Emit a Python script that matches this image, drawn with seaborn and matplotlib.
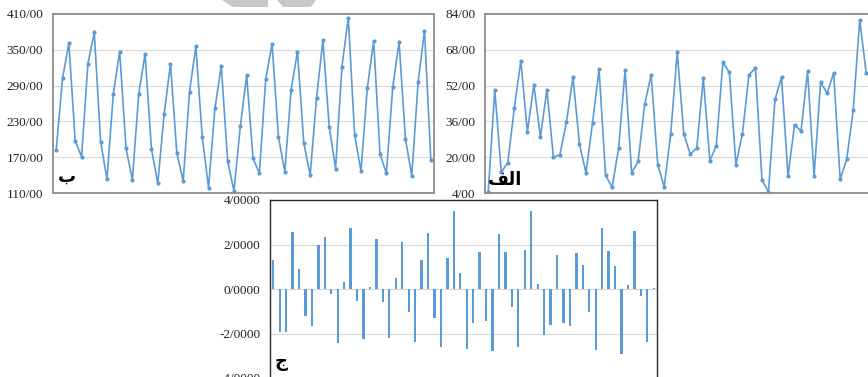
import numpy as np
import pandas as pd
import seaborn as sns
import matplotlib.pyplot as plt
from matplotlib.patches import Polygon

# panel ب (top left)
VALUES_B = [182, 302, 361, 197, 171, 327, 379, 196, 133, 276,
            347, 185, 132, 276, 343, 184, 126, 242, 326, 177,
            130, 280, 356, 204, 119, 252, 323, 164, 113, 222,
            307, 168, 143, 301, 360, 204, 146, 283, 347, 193,
            140, 269, 366, 221, 151, 321, 404, 207, 147, 286,
            365, 175, 143, 287, 363, 201, 139, 296, 382, 166]
TICKS_B = [110, 170, 230, 290, 350, 410]
TICK_LABELS_B = ['110/00', '170/00', '230/00', '290/00', '350/00', '410/00']

# panel الف (top right, cut off at the right edge of the picture)
VALUES_ALEF = [4.6, 50.1, 13.2, 17.6, 42.1, 63.1, 31.3, 52.3, 29.0, 50.1,
               19.9, 21.2, 35.7, 55.7, 25.8, 13.0, 35.4, 59.4, 12.0, 6.5,
               23.9, 59.0, 13.0, 18.1, 43.6, 56.9, 16.7, 6.8, 30.5, 67.1,
               30.5, 21.3, 24.2, 55.4, 18.4, 25.2, 62.4, 57.9, 16.7, 30.5,
               56.9, 59.7, 9.8, 4.6, 45.8, 55.7, 11.6, 34.5, 31.7, 58.4,
               11.7, 53.5, 48.6, 57.6, 10.2, 19.0, 40.9, 81.3, 57.5]
TICKS_ALEF = [4, 20, 36, 52, 68, 84]
TICK_LABELS_ALEF = ['4/00', '20/00', '36/00', '52/00', '68/00', '84/00']

# panel ج (bottom)
VALUES_J = [1.30, -1.92, -1.92, 2.56, 0.91, -1.21, -1.66, 1.98, 2.32, -0.21,
            -2.44, 0.33, 2.74, -0.54, -2.26, 0.07, 2.23, -0.58, -2.19, 0.51,
            2.10, -1.05, -2.38, 1.30, 2.52, -1.30, -2.59, 1.38, 3.51, 0.70,
            -2.70, -1.51, 1.68, -1.42, -2.77, 2.47, 1.65, -0.82, -2.59, 1.75,
            3.51, 0.21, -2.07, -1.62, 1.51, -1.51, -1.65, 1.60, 1.06, -1.05,
            -2.74, 2.73, 1.72, 1.05, -2.94, 0.16, 2.61, -0.30, -2.38, 0.06]
TICKS_J = [-4, -2, 0, 2, 4]
TICK_LABELS_J = ['-4/0000', '-2/0000', '0/0000', '2/0000', '4/0000']

# panel letters; الف given in presentation forms, visual order, so it joins
LABEL_B = 'ب'
LABEL_ALEF = '\ufed2\ufedf\ufe8d'
LABEL_J = 'ج'

BLUE = '#5b9bd5'
W, H = 868, 377

sns.set_style('white')
plt.rcParams['font.family'] = ['Liberation Serif', 'DejaVu Serif']

fig = plt.figure(figsize=(W / 100, H / 100), dpi=100)


def px_axes(left, top, right, bottom):
    return fig.add_axes([left / W, (H - bottom) / H, (right - left) / W, (bottom - top) / H])


def style_axes(ax, ticks, labels, edge, lw):
    ax.set_yticks(ticks)
    ax.set_yticklabels(labels)
    ax.set_ylim(ticks[0], ticks[-1])
    ax.set_xticks([])
    ax.set_xlabel('')
    ax.set_ylabel('')
    ax.tick_params(axis='y', length=0, pad=7, labelsize=9.5, labelcolor='#222222')
    ax.grid(axis='y', color='#d9d9d9', linewidth=0.8)
    ax.set_axisbelow(True)
    for s in ax.spines.values():
        s.set_color(edge)
        s.set_linewidth(lw)


def line_panel(ax, values, ticks, labels, n_slots):
    df = pd.DataFrame({'i': np.arange(len(values)), 'v': values})
    sns.lineplot(data=df, x='i', y='v', ax=ax, color=BLUE, linewidth=1.2,
                 marker='o', markersize=3, markeredgewidth=0)
    ax.set_xlim(-0.5, n_slots - 0.5)
    style_axes(ax, ticks, labels, '#8c8c8c', 1.3)


ax_b = px_axes(53, 14, 434, 193)
line_panel(ax_b, VALUES_B, TICKS_B, TICK_LABELS_B, len(VALUES_B))

ax_a = px_axes(485, 14, 876, 193)
line_panel(ax_a, VALUES_ALEF, TICKS_ALEF, TICK_LABELS_ALEF, 60)

ax_j = px_axes(270, 200, 657, 378)
df_j = pd.DataFrame({'i': np.arange(len(VALUES_J)), 'v': VALUES_J})
sns.barplot(data=df_j, x='i', y='v', ax=ax_j, color=BLUE, width=0.36,
            saturation=1, edgecolor='none')
ax_j.set_xlim(-0.5, len(VALUES_J) - 0.5)
style_axes(ax_j, TICKS_J, TICK_LABELS_J, '#2b2b2b', 1.0)

lab = dict(fontsize=13, fontweight='bold', color='black', family=['DejaVu Sans'])
ax_b.text(0.012, 0.04, LABEL_B, transform=ax_b.transAxes, ha='left', va='bottom', **lab)
ax_a.text(0.008, 0.02, LABEL_ALEF, transform=ax_a.transAxes, ha='left', va='bottom', **lab)
ax_j.text(0.012, 0.04, LABEL_J, transform=ax_j.transAxes, ha='left', va='bottom', **lab)

# grey watermark fragments along the top edge
for pts in ([(222, 0), (268, 0), (268, 7), (233, 7)],
            [(277, 0), (316, 0), (311, 7), (283, 7)]):
    fig.patches.append(Polygon([(x / W, 1 - y / H) for x, y in pts], closed=True,
                               transform=fig.transFigure, facecolor='#c8c8c8',
                               edgecolor='none'))

fig.savefig('out.png', dpi=100)
plt.close(fig)
